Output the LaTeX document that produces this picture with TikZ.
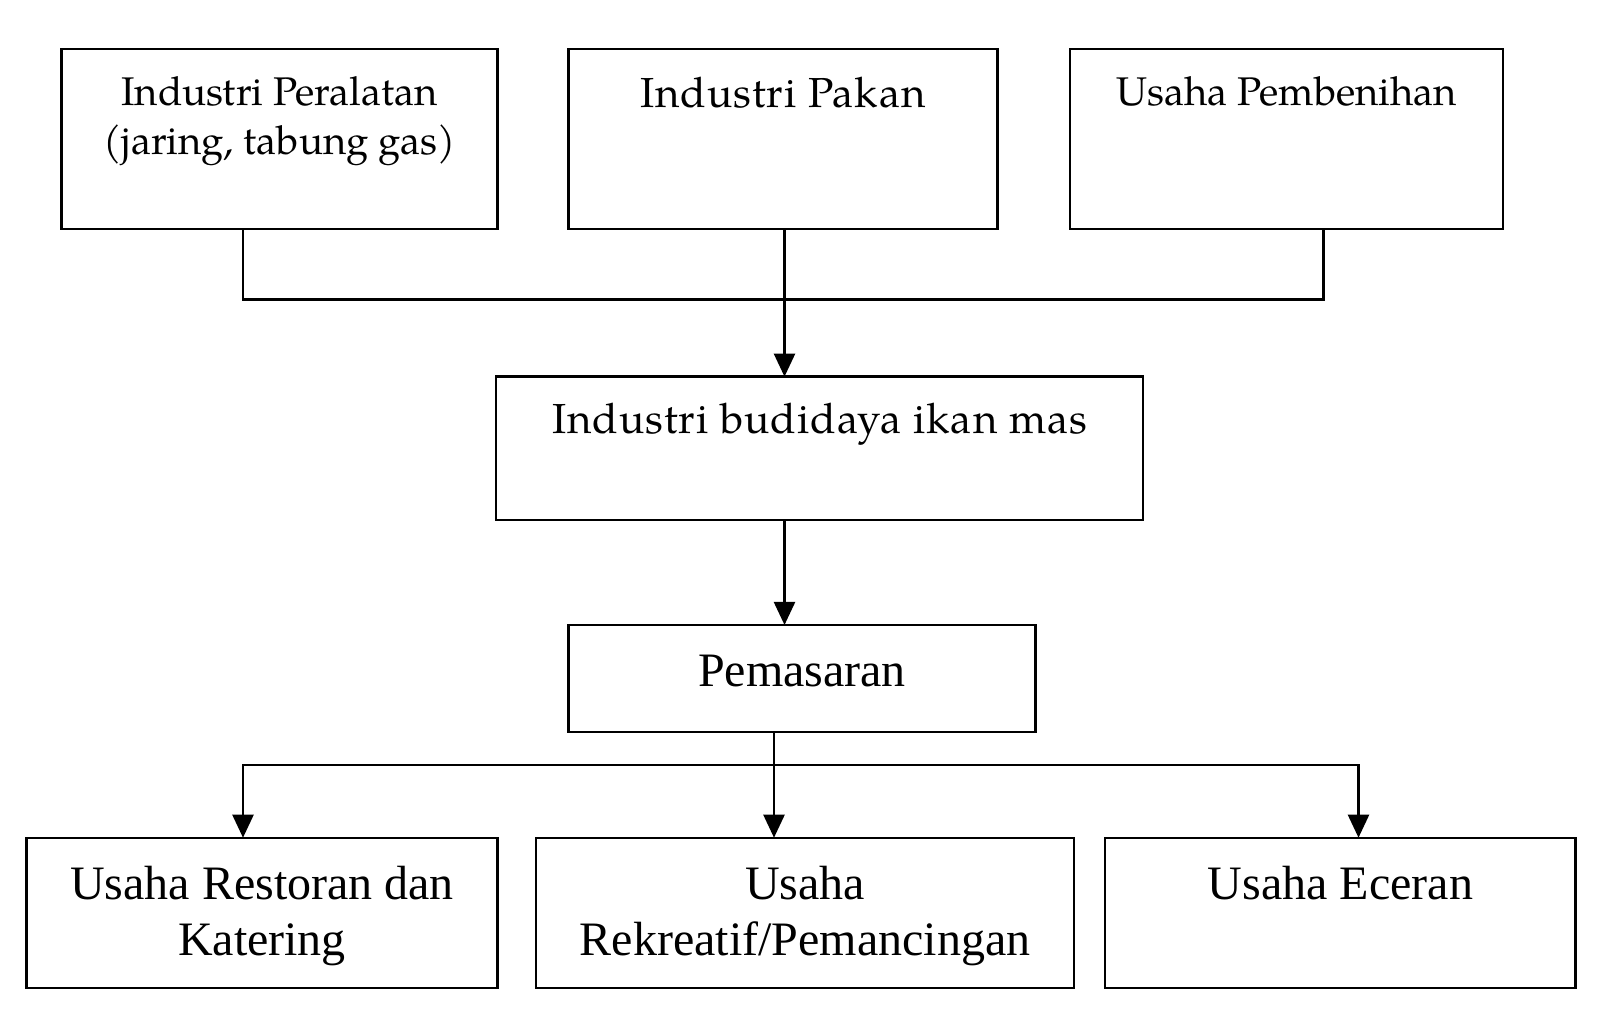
\documentclass[tikz,border=0pt]{standalone}
\usepackage{fontspec}
\setmainfont{Liberation Serif}
\newfontfamily\pala{texgyrepagella-regular.otf}
\newfontfamily\palawide[LetterSpace=2.5]{texgyrepagella-regular.otf}
\newfontfamily\tms{Liberation Serif}
\usetikzlibrary{arrows.meta}
\begin{document}
\begin{tikzpicture}[x=1pt,y=-1pt,
  box/.style={draw,line width=2.4pt,inner sep=0pt,outer sep=0pt,minimum width=#1},
  ptxt/.style={anchor=base,inner sep=0pt,font=\pala\fontsize{40}{48}\selectfont},
  pwtxt/.style={anchor=base,inner sep=0pt,font=\palawide\fontsize{42}{48}\selectfont},
  ttxt/.style={anchor=base,inner sep=0pt,font=\tms\fontsize{48}{56}\selectfont},
  con/.style={line width=2.4pt,miter limit=10},
  arr/.style={con,-{Triangle[width=21pt,length=23pt]}},
  arrs/.style={con,{Triangle[width=21pt,length=23pt]}-{Triangle[width=21pt,length=23pt]}}]
\useasboundingbox[fill=white] (0,0) rectangle (1600,1014);
% boxes
\node[box=436pt,minimum height=180pt] (b1) at (279.5,139) {};
\node[box=429.3pt,minimum height=180pt] (b2) at (783,139) {};
\node[box=433.2pt,minimum height=180pt] (b3) at (1286.4,139) {};
\node[box=647.2pt,minimum height=143.3pt] (bud) at (819.5,448.3) {};
\node[box=467.3pt,minimum height=107.3pt] (pem) at (802,678.6) {};
\node[box=470.7pt,minimum height=150pt] (b4) at (262,912.7) {};
\node[box=537.5pt,minimum height=150pt] (b5) at (805,912.7) {};
\node[box=470.3pt,minimum height=150pt] (b6) at (1340.4,912.7) {};
% texts
\node[ptxt] (t1a) at (279.5,106) {Industri Peralatan};
\node[ptxt] (t1b) at (279.5,154) {(jaring, tabung gas)};
\node[pwtxt] (t2) at (783,108) {Industri Pakan};
\node[ptxt] (t3) at (1286.4,106) {Usaha Pembenihan};
\node[pwtxt] (tbud) at (819.5,433) {Industri budidaya ikan mas};
\node[ttxt] (tpem) at (802,686) {Pemasaran};
\node[ttxt] (t4a) at (262,899) {Usaha Restoran dan};
\node[ttxt] (t4b) at (262,955) {Katering};
\node[ttxt] (t5a) at (805,899) {Usaha};
\node[ttxt] (t5b) at (805,955) {Rekreatif/Pemancingan};
\node[ttxt] (t6) at (1340.4,899) {Usaha Eceran};
% junction coordinates
\coordinate (j1) at (243,299.3);
\coordinate (j3) at (1323.5,299.3);
\coordinate (m1) at (784.5,0);
\coordinate (m2) at (774,0);
\coordinate (l) at (243,765);
\coordinate (r) at (1358.5,765);
% connectors
\draw[con] (b1.south -| j1) -- (j1) -- (j3) -- (b3.south -| j3);
\draw[arr] (m1 |- b2.south) -- (m1 |- bud.north);
\draw[arr] (m1 |- bud.south) -- (m1 |- pem.north);
\draw[arr] (m2 |- pem.south) -- (m2 |- b5.north);
\draw[arrs] (l |- b4.north) -- (l) -- (r) -- (r |- b6.north);
\end{tikzpicture}
\end{document}
